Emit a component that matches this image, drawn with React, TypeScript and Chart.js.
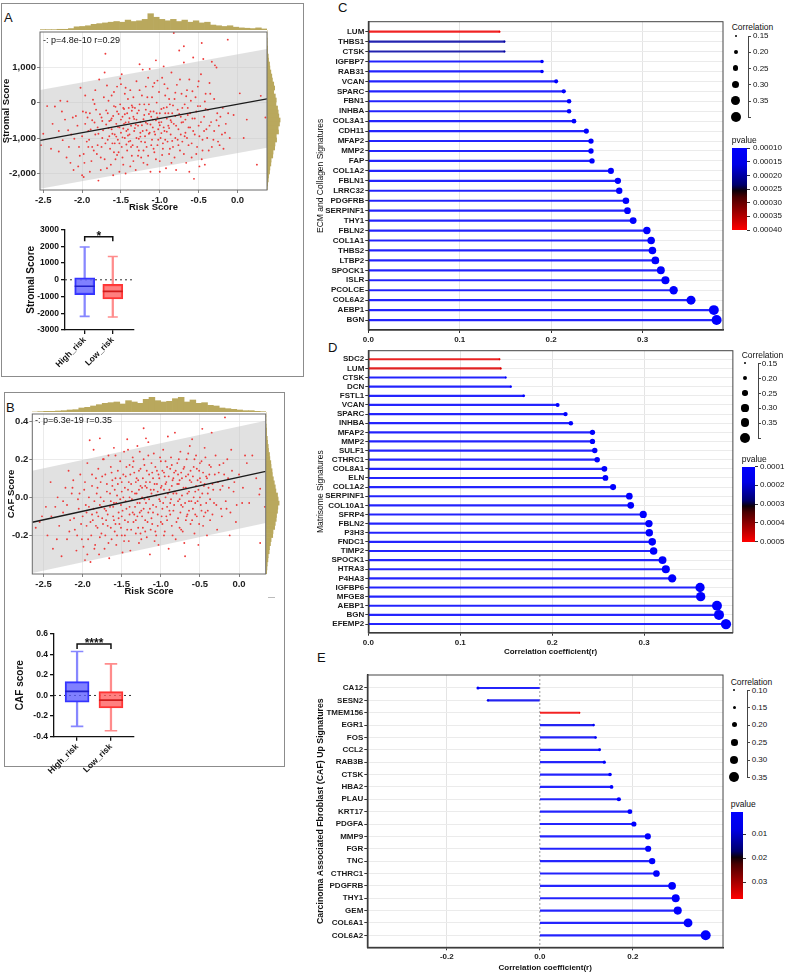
import React, { useEffect, useRef } from "react";
import { Chart, registerables } from "chart.js";

Chart.register(...registerables);

const FONT = "'Liberation Sans', Arial, Helvetica, sans-serif";
const HIST_COLOR = "#b9a85d";

/* ================= Panel A : Stromal score vs Risk score ================= */
const stromalPoints: [number, number][] = [
  [-2.53, -1200], [-2.5, -880], [-2.45, -100], [-2.38, -600], [-2.35, -110], [-2.3, -1380], [-2.28, 50], [-2.25, -1060],
  [-2.22, -480], [-2.2, -1550], [-2.19, 35], [-2.18, -780], [-2.15, -1700], [-2.14, -900], [-2.12, -420],
  [-2.08, -380], [-2.05, -1800], [-2.04, -1250], [-2.02, 420], [-2.0, -950], [-2.0, -2050], [-1.98, -1450], [-1.96, -600],
  [-1.95, -280], [-1.94, -1100], [-1.92, -800], [-1.9, -1950], [-1.9, -300], [-1.88, -1650], [-1.87, -500], [-1.86, 80],
  [-1.85, -1350], [-1.83, -900], [-1.82, -200], [-1.8, -1200], [-1.8, -700], [-1.79, -2200], [-1.78, 650], [-1.76, -1550],
  [-1.75, -420], [-1.74, -1000], [-1.72, 150], [-1.71, 850], [-1.7, 1375],
  [-1.69, -620], [-1.68, -1850], [-1.67, -300], [-1.66, 50], [-1.65, -950], [-1.64, -1300], [-1.63, -500], [-1.62, 200],
  [-1.62, -750], [-1.61, -1150], [-1.6, -2050], [-1.6, -380], [-1.59, -100], [-1.58, -900], [-1.57, -1600], [-1.56, -600],
  [-1.55, 450], [-1.55, -250], [-1.54, -1050], [-1.53, -1400], [-1.52, -700], [-1.51, -50], [-1.5, -850], [-1.5, 520],
  [-1.49, 800], [-1.49, -1250], [-1.48, -400], [-1.47, -1750], [-1.47, -150], [-1.46, -600], [-1.45, -1000], [-1.45, 250],
  [-1.44, -2000], [-1.43, -800], [-1.42, -300], [-1.42, -1350], [-1.41, 100], [-1.4, -550], [-1.4, -1100], [-1.4, -150],
  [-1.39, -900], [-1.38, 350], [-1.37, -650], [-1.36, -1500], [-1.35, -130], [-1.35, -1200], [-1.34, -400], [-1.33, -800],
  [-1.32, -150], [-1.31, -1900], [-1.3, 600], [-1.3, -1000], [-1.29, -300], [-1.28, -650], [-1.27, -1350], [-1.26, 1080],
  [-1.26, -50], [-1.25, -550], [-1.24, -1100], [-1.23, 200], [-1.22, 930], [-1.22, -800], [-1.21, -1700], [-1.2, -350],
  [-1.19, -950], [-1.18, 450], [-1.18, -200], [-1.17, -1250], [-1.16, -600], [-1.15, -1500], [-1.15, 700], [-1.14, -50],
  [-1.13, 950], [-1.13, -850], [-1.12, -1950], [-1.11, -400], [-1.1, 150], [-1.1, -1050], [-1.09, -700], [-1.08, -250],
  [-1.07, 550], [-1.07, -1400], [-1.06, -900], [-1.05, 1190], [-1.05, -500], [-1.04, 0], [-1.03, -1200], [-1.02, -750],
  [-1.01, 300], [-1.0, -1650], [-1.0, -300],
  [-0.99, -1000], [-0.98, -550], [-0.97, 700], [-0.96, -1300], [-0.95, 1020], [-0.95, -150], [-0.94, -800], [-0.93, 200],
  [-0.92, -1850], [-0.91, -450], [-0.9, -1100], [-0.9, 400], [-0.89, -650], [-0.88, -1450], [-0.87, -50], [-0.86, -900],
  [-0.85, 850], [-0.84, -300], [-0.83, -1250], [-0.82, 1960], [-0.82, -600], [-0.81, 100], [-0.8, -1000], [-0.79, -1900],
  [-0.78, 500], [-0.77, -200], [-0.76, -750], [-0.75, 1470], [-0.74, -1350], [-0.73, -400], [-0.72, 250], [-0.71, -1100],
  [-0.7, -550], [-0.69, 1590], [-0.69, 1130], [-0.68, -50], [-0.67, -850], [-0.66, -1700], [-0.65, 350], [-0.64, -350],
  [-0.63, -1200], [-0.62, 650], [-0.61, -700], [-0.6, 50],
  [-0.59, -1550], [-0.58, -450], [-0.57, 1270], [-0.56, -2150], [-0.55, -900], [-0.54, 150], [-0.53, -250], [-0.52, -1250],
  [-0.51, 450], [-0.5, -650], [-0.49, -1800], [-0.48, -100], [-0.47, 800], [-0.46, 1680], [-0.45, -1050], [-0.44, 1230],
  [-0.43, -400], [-0.42, -1750], [-0.41, 250], [-0.4, -750], [-0.38, -200], [-0.37, -1350], [-0.36, 550], [-0.34, -550],
  [-0.33, 1150], [-0.31, -1050], [-0.3, 100], [-0.29, 1050], [-0.27, 990], [-0.26, -300], [-0.25, -1100], [-0.24, -650],
  [-0.22, -400], [-0.2, -900],
  [-0.18, -1300], [-0.15, -600], [-0.125, 1775], [-0.1, -1000], [-0.05, -350], [0.03, 260], [0.08, -1000], [0.12, -480],
  [0.25, -1750], [0.3, 190], [0.36, -420],
  [-1.62, -450], [-1.58, -1150], [-1.53, -320], [-1.48, -980], [-1.44, -560], [-1.38, -1080], [-1.36, -230], [-1.33, -460],
  [-1.29, -1250], [-1.25, -850], [-1.21, -470], [-1.17, -780], [-1.12, -620], [-1.08, -1300], [-1.03, -420], [-0.98, -860],
  [-0.93, -300], [-0.88, -720], [-0.84, -1080], [-0.8, -380], [-0.76, -1200], [-0.72, -560], [-0.68, -950], [-0.64, -150],
  [-1.66, -720], [-1.7, -1150], [-1.74, -520], [-1.84, -560], [-1.92, -1250], [-1.55, -1480], [-1.46, -180], [-1.41, -760],
  [-1.31, -620], [-1.27, -1020], [-1.19, -1120], [-1.14, -320], [-1.01, -560], [-0.96, -1150], [-0.91, -130], [-0.86, -500],
  [-2.1, -1020], [-2.06, -650], [-2.03, -1500], [-1.99, -250], [-1.97, -1700], [-1.93, -420], [-1.91, -1050], [-1.89, -760],
  [-1.87, -1250], [-1.84, -40], [-1.81, -1450], [-1.79, -880], [-1.77, -330], [-1.75, -1250], [-1.73, -780], [-1.71, -1600],
  [-1.69, -220], [-1.67, -1050], [-1.65, -520], [-1.63, -1750], [-1.61, -880], [-1.59, -1400], [-1.57, -120], [-1.56, -960],
  [-1.54, -680], [-1.52, -1150], [-1.5, -480], [-1.48, -1550], [-1.47, -730], [-1.45, -330], [-1.43, -1180], [-1.41, -930],
  [-1.39, -440], [-1.37, -1250], [-1.36, -80], [-1.34, -1650], [-1.32, -720], [-1.3, -480], [-1.28, -1500], [-1.27, -220],
  [-1.25, -960], [-1.23, -640], [-1.21, -1350], [-1.2, -50], [-1.18, -560], [-1.16, -1750], [-1.14, -880], [-1.12, -250],
  [-1.11, -1200], [-1.09, -480], [-1.07, -820], [-1.05, -1600], [-1.04, -300], [-1.02, -1050], [-1.0, -640], [-0.98, -180],
  [-0.97, -1480], [-0.95, -700], [-0.93, -1050], [-0.91, -820], [-0.89, -300], [-0.87, -1300], [-0.85, -550], [-0.83, -80],
  [-0.81, -1550], [-0.79, -650], [-0.77, -1050], [-0.75, -320], [-0.73, -900], [-0.71, -150], [-0.69, -1450], [-0.67, -480],
  [-0.65, -1000], [-0.63, -700], [-0.61, -300], [-0.59, -1150], [-0.57, -800], [-0.55, -450], [-0.53, -1450], [-0.51, -100],
  [-0.49, -950], [-0.47, -550], [-0.45, -1350], [-0.43, -800], [-0.41, -180], [-0.39, -1000], [-0.36, -650], [-0.33, -1250],
  [-0.3, -800], [-0.27, -500], [-0.23, -1200], [-0.19, -150], [-0.16, -850], [-0.12, -300], [-1.96, 200], [-1.83, 350],
  [-1.68, 480], [-1.59, 300], [-1.51, 680], [-1.44, 420], [-1.34, 150], [-1.26, 350], [-1.16, 150], [-1.09, 450],
  [-1.03, 620], [-0.94, 520], [-0.88, 100], [-0.8, 280], [-0.74, 650], [-0.66, 180], [-0.58, 320], [-0.5, 600],
  [-0.42, 30], [-0.35, 250], [-2.3, -800], [-2.26, -250], [-2.4, -1300], [-2.17, -1250], [-2.11, -1900], [-1.98, -2100],
  [-1.76, -1900], [-1.52, -1950], [-1.38, -1800], [-1.24, -1550], [-1.0, -1950], [-0.85, -1700], [-0.62, -1950], [-0.46, -1600],
];
const stromalFitX = [-2.54, 0.38];
const stromalFitY = [-1067, 103];
const stromalBandUpper = [354, 1513];
const stromalBandLower = [-2432, -1273];
const stromalXTicks = [-2.5, -2.0, -1.5, -1.0, -0.5, 0.0];
const stromalYTicks = [-2000, -1000, 0, 1000];
const riskHistA = [1, 1, 1, 2, 2, 4, 9, 10, 12, 16, 18, 20, 22, 24, 22, 28, 24, 26, 30, 46, 36, 30, 26, 30, 24, 28, 22, 26, 20, 22, 14, 12, 10, 12, 8, 6, 5, 4, 6, 3];
const stromalHist = [0, 0, 1, 1, 2, 2, 4, 5, 8, 9, 12, 15, 17, 21, 24, 21, 26, 29, 28, 33, 35, 37, 41, 39, 35, 36, 29, 30, 25, 24, 19, 18, 13, 12, 9, 8, 5, 4, 2, 1];

const boxGroups = ["High_risk", "Low_risk"];
const stromalMin = [-2187, -2220];
const stromalQ1 = [-882, -1143];
const stromalMedian = [-388, -690];
const stromalQ3 = [123, -275];
const stromalMax = [1956, 1390];
const stromalBoxTicks = [-3000, -2000, -1000, 0, 1000, 2000, 3000];

/* ================= Panel B : CAF score vs Risk score ================= */
const cafPoints: [number, number][] = [
  [-2.55, -0.13], [-2.52, -0.1], [-2.47, -0.05], [-2.45, -0.2], [-2.41, 0.08], [-2.38, -0.27], [-2.35, -0.05], [-2.32, 0.0],
  [-2.3, -0.15], [-2.27, -0.31], [-2.25, -0.08], [-2.22, 0.05], [-2.2, -0.22], [-2.18, 0.14], [-2.16, -0.12],
  [-2.14, 0.02], [-2.12, 0.09], [-2.1, -0.17], [-2.08, -0.28], [-2.06, -0.01], [-2.05, -0.06], [-2.03, 0.12], [-2.01, -0.22],
  [-2.0, -0.1], [-1.98, 0.04], [-1.97, -0.33], [-1.95, -0.15], [-1.94, 0.18], [-1.92, -0.05], [-1.91, 0.3], [-1.9, -0.34],
  [-1.89, -0.2], [-1.88, 0.06], [-1.87, -0.12], [-1.86, 0.25], [-1.85, -0.02], [-1.84, -0.25], [-1.83, 0.1], [-1.82, -0.08],
  [-1.81, -0.16], [-1.8, 0.15], [-1.79, -0.3], [-1.78, 0.31], [-1.78, -0.04],
  [-1.77, 0.08], [-1.76, -0.19], [-1.75, -0.11], [-1.74, 0.2], [-1.73, -0.02], [-1.72, -0.27], [-1.71, 0.12], [-1.7, -0.07],
  [-1.69, 0.03], [-1.68, -0.15], [-1.67, 0.22], [-1.66, -0.32], [-1.65, -0.05], [-1.64, 0.16], [-1.63, -0.22], [-1.62, 0.06],
  [-1.61, -0.1], [-1.6, 0.26], [-1.6, -0.03], [-1.59, -0.18], [-1.58, 0.1], [-1.57, -0.25], [-1.56, 0.01], [-1.55, 0.14],
  [-1.54, -0.08], [-1.53, -0.14], [-1.52, 0.19], [-1.51, -0.04], [-1.5, 0.08], [-1.5, -0.2], [-1.49, -0.29], [-1.48, 0.0],
  [-1.47, 0.24], [-1.46, -0.12], [-1.45, 0.11], [-1.44, -0.06], [-1.43, 0.305], [-1.43, -0.17], [-1.42, 0.04], [-1.41, -0.23],
  [-1.4, 0.17], [-1.4, -0.09],
  [-1.39, -0.28], [-1.38, 0.07], [-1.37, -0.01], [-1.36, 0.21], [-1.35, -0.13], [-1.34, 0.13], [-1.33, -0.05], [-1.32, -0.19],
  [-1.31, 0.02], [-1.3, 0.27], [-1.3, -0.1], [-1.29, 0.09], [-1.28, -0.24], [-1.27, -0.03], [-1.26, 0.15], [-1.25, -0.07],
  [-1.24, 0.05], [-1.23, -0.16], [-1.22, 0.363], [-1.22, 0.2], [-1.21, -0.01], [-1.2, -0.12], [-1.19, 0.31], [-1.19, 0.08],
  [-1.18, -0.21], [-1.17, 0.0], [-1.16, 0.29], [-1.16, -0.08], [-1.15, 0.12], [-1.14, -0.3], [-1.13, 0.04], [-1.12, 0.18],
  [-1.11, -0.14], [-1.1, -0.04], [-1.09, 0.23], [-1.08, 0.07], [-1.07, -0.18], [-1.06, 0.01], [-1.05, 0.14], [-1.04, -0.09],
  [-1.03, -0.25], [-1.02, 0.1], [-1.01, -0.02], [-1.0, 0.19], [-1.0, -0.13],
  [-0.99, 0.06], [-0.98, -0.06], [-0.97, 0.25], [-0.96, -0.2], [-0.95, 0.11], [-0.94, 0.0], [-0.93, -0.1], [-0.92, 0.16],
  [-0.91, 0.32], [-0.9, -0.27], [-0.89, 0.04], [-0.88, -0.03], [-0.87, 0.21], [-0.86, -0.15], [-0.85, 0.09], [-0.84, -0.07],
  [-0.83, 0.13], [-0.82, 0.34], [-0.81, -0.22], [-0.8, 0.02], [-0.79, 0.18], [-0.78, -0.11], [-0.77, 0.07], [-0.76, -0.01],
  [-0.75, 0.24], [-0.74, -0.17], [-0.73, 0.1], [-0.72, -0.05], [-0.71, 0.15], [-0.7, -0.24], [-0.69, -0.31], [-0.68, 0.05],
  [-0.67, 0.2], [-0.66, -0.09], [-0.65, 0.12], [-0.64, -0.02], [-0.63, 0.27], [-0.62, -0.14], [-0.61, 0.08], [-0.6, 0.305],
  [-0.59, -0.06], [-0.58, 0.16], [-0.57, -0.19], [-0.56, 0.03], [-0.55, 0.22], [-0.54, -0.1], [-0.53, 0.09], [-0.52, -0.25],
  [-0.51, 0.14], [-0.5, 0.0], [-0.49, -0.04], [-0.48, 0.19], [-0.47, 0.36], [-0.46, -0.15], [-0.45, 0.06], [-0.44, 0.26],
  [-0.43, -0.08], [-0.42, 0.11], [-0.41, -0.2], [-0.4, 0.02], [-0.38, 0.17], [-0.37, -0.12], [-0.35, 0.34], [-0.34, 0.07],
  [-0.32, -0.03], [-0.3, 0.22], [-0.28, -0.17], [-0.26, 0.13], [-0.24, 0.04], [-0.22, -0.1], [-0.2, 0.18],
  [-0.18, 0.42], [-0.16, -0.06], [-0.14, 0.1], [-0.12, -0.2], [-0.1, 0.25], [-0.07, 0.03], [-0.04, -0.13], [0.04, -0.03],
  [0.077, 0.22], [0.13, -0.03], [0.17, 0.22], [0.22, 0.1], [0.26, 0.015], [0.27, 0.045], [0.27, -0.24], [0.33, -0.05],
  [-1.7, -0.12], [-1.64, -0.02], [-1.58, -0.14], [-1.52, -0.01], [-1.46, -0.2], [-1.4, 0.0], [-1.34, -0.09], [-1.28, 0.04],
  [-1.24, -0.1], [-1.2, 0.06], [-1.14, -0.06], [-1.1, 0.1], [-1.04, 0.03], [-0.98, -0.14], [-0.94, 0.07], [-0.88, -0.09],
  [-0.84, 0.02], [-0.78, 0.12], [-0.74, -0.04], [-0.68, -0.12], [-1.76, -0.05], [-1.82, 0.02], [-1.88, -0.09], [-1.96, -0.04],
  [-1.62, 0.09], [-1.48, 0.12], [-1.36, 0.16], [-1.26, -0.19], [-1.18, 0.14], [-1.06, -0.2], [-0.96, 0.13], [-0.86, 0.17],
  [-0.76, -0.16], [-0.64, 0.03], [-0.56, -0.03], [-0.5, 0.1], [-1.5, -0.1], [-1.32, 0.08], [-1.12, -0.11], [-0.92, -0.05],
  [-2.2, -0.04], [-2.17, -0.18], [-2.13, 0.05], [-2.11, -0.11], [-2.07, -0.2], [-2.04, 0.02], [-2.02, -0.14], [-1.99, -0.26],
  [-1.97, 0.08], [-1.95, -0.08], [-1.93, -0.22], [-1.92, 0.0], [-1.9, -0.13], [-1.88, 0.12], [-1.86, -0.06], [-1.85, -0.27],
  [-1.83, -0.15], [-1.81, 0.05], [-1.8, -0.1], [-1.78, -0.21], [-1.77, 0.0], [-1.75, 0.11], [-1.74, -0.14], [-1.72, -0.06],
  [-1.71, -0.2], [-1.69, 0.07], [-1.68, -0.09], [-1.67, -0.24], [-1.65, 0.02], [-1.64, -0.16], [-1.63, 0.13], [-1.61, -0.05],
  [-1.6, -0.12], [-1.59, 0.04], [-1.57, -0.03], [-1.56, -0.2], [-1.55, 0.07], [-1.54, -0.11], [-1.52, 0.1], [-1.51, -0.16],
  [-1.5, 0.03], [-1.49, -0.07], [-1.47, -0.23], [-1.46, 0.05], [-1.45, -0.02], [-1.44, 0.16], [-1.42, -0.13], [-1.41, 0.08],
  [-1.4, -0.05], [-1.39, 0.12], [-1.38, -0.17], [-1.37, 0.03], [-1.36, -0.08], [-1.35, 0.19], [-1.33, 0.02], [-1.32, -0.12],
  [-1.31, 0.1], [-1.3, -0.03], [-1.29, -0.16], [-1.28, 0.14], [-1.27, -0.08], [-1.26, 0.06], [-1.25, -0.22], [-1.24, 0.0],
  [-1.23, 0.1], [-1.22, -0.06], [-1.21, 0.17], [-1.2, -0.18], [-1.19, -0.03], [-1.18, 0.05], [-1.17, -0.13], [-1.16, 0.22],
  [-1.15, -0.01], [-1.14, 0.08], [-1.13, -0.17], [-1.12, 0.02], [-1.11, 0.13], [-1.1, -0.08], [-1.09, 0.04], [-1.08, -0.23],
  [-1.07, 0.16], [-1.06, -0.05], [-1.05, 0.07], [-1.04, -0.15], [-1.03, 0.12], [-1.02, -0.01], [-1.01, 0.21], [-1.0, 0.05],
  [-0.99, -0.1], [-0.98, 0.14], [-0.97, -0.03], [-0.96, 0.04], [-0.95, -0.18], [-0.94, 0.19], [-0.93, 0.08], [-0.92, -0.12],
  [-0.91, 0.02], [-0.9, 0.11], [-0.89, -0.07], [-0.88, 0.15], [-0.87, -0.01], [-0.86, 0.06], [-0.85, -0.2], [-0.84, 0.1],
  [-0.83, -0.04], [-0.82, 0.03], [-0.81, 0.14], [-0.8, -0.13], [-0.79, 0.07], [-0.78, -0.02], [-0.77, 0.2], [-0.76, 0.09],
  [-0.75, -0.08], [-0.74, 0.13], [-0.73, 0.01], [-0.72, -0.18], [-0.71, 0.05], [-0.7, 0.16], [-0.69, -0.03], [-0.68, 0.11],
  [-0.67, -0.1], [-0.66, 0.02], [-0.65, 0.23], [-0.64, -0.07], [-0.63, 0.09], [-0.62, 0.14], [-0.61, -0.02], [-0.6, -0.12],
  [-0.59, 0.11], [-0.58, 0.0], [-0.57, 0.2], [-0.56, -0.09], [-0.55, 0.06], [-0.54, 0.15], [-0.53, -0.02], [-0.52, 0.04],
  [-0.51, -0.14], [-0.5, 0.18], [-0.49, 0.08], [-0.48, -0.07], [-0.47, 0.02], [-0.46, 0.13], [-0.45, -0.1], [-0.44, 0.07],
  [-0.43, 0.21], [-0.42, -0.03], [-0.41, 0.1], [-0.4, -0.07], [-0.39, 0.05], [-0.38, 0.12], [-0.37, -0.01], [-0.36, 0.16],
  [-0.34, -0.09], [-0.33, 0.04], [-0.31, 0.12], [-0.29, -0.04], [-0.27, 0.08], [-0.25, 0.17], [-0.23, -0.06], [-0.21, 0.06],
  [-0.19, 0.12], [-0.17, -0.02], [-0.15, 0.2], [-0.13, 0.05], [-0.11, -0.08], [-0.09, 0.14], [-0.06, 0.08], [-0.03, -0.04],
  [0.0, 0.12], [0.05, 0.05], [0.1, 0.18], [-2.25, -0.02], [-2.4, -0.1], [-2.6, -0.16], [-2.33, -0.22], [-1.94, -0.3],
  [-1.73, 0.2], [-1.58, 0.22], [-1.42, 0.25], [-1.27, 0.24],
];
const cafFitX = [-2.644, 0.341];
const cafFitY = [-0.131, 0.136];
const cafBandUpper = [0.14, 0.403];
const cafBandLower = [-0.398, -0.135];
const cafXTicks = [-2.5, -2.0, -1.5, -1.0, -0.5, 0.0];
const cafYTicks = [-0.2, 0.0, 0.2, 0.4];
const riskHistB = [0, 1, 2, 2, 3, 4, 6, 7, 12, 14, 18, 22, 26, 28, 30, 24, 34, 30, 26, 38, 44, 34, 30, 32, 40, 44, 30, 36, 26, 28, 20, 18, 12, 10, 8, 6, 4, 4, 2, 1];
const cafHist = [0, 0, 0, 1, 2, 2, 4, 5, 7, 8, 11, 12, 15, 16, 19, 20, 23, 26, 29, 31, 36, 38, 41, 37, 36, 33, 32, 29, 27, 22, 21, 16, 14, 11, 10, 7, 6, 4, 3, 2];

const cafMin = [-0.30, -0.342];
const cafQ1 = [-0.066, -0.121];
const cafMedian = [0.04, -0.045];
const cafQ3 = [0.134, 0.037];
const cafMax = [0.427, 0.306];
const cafBoxTicks = [-0.4, -0.2, 0.0, 0.2, 0.4, 0.6];

/* ================= Panel C : ECM and Collagen ================= */
const genesC = ["LUM", "THBS1", "CTSK", "IGFBP7", "RAB31", "VCAN", "SPARC", "FBN1", "INHBA", "COL3A1", "CDH11", "MFAP2", "MMP2", "FAP", "COL1A2", "FBLN1", "LRRC32", "PDGFRB", "SERPINF1", "THY1", "FBLN2", "COL1A1", "THBS2", "LTBP2", "SPOCK1", "ISLR", "PCOLCE", "COL6A2", "AEBP1", "BGN"];
const corrC = [0.1436, 0.149, 0.149, 0.19, 0.19, 0.2055, 0.2138, 0.2196, 0.2196, 0.225, 0.2385, 0.2436, 0.2436, 0.2447, 0.2654, 0.273, 0.2745, 0.2818, 0.2835, 0.2897, 0.3047, 0.3094, 0.3108, 0.314, 0.32, 0.325, 0.334, 0.353, 0.378, 0.381];
const pvalC = [0.00039, 0.0002, 0.0002, 0.00004, 0.00004, 0.00002, 0.00002, 0.00001, 0.00001, 0.00001, 0.000005, 0.000004, 0.000004, 0.000004, 0.000001, 0.000001, 0.000001, 0.000001, 0.000001, 0.000001, 0.0000005, 0.0000004, 0.0000004, 0.0000003, 0.0000002, 0.0000002, 0.0000001, 0.00000005, 0.00000001, 0.00000001];
const xTicksC = [0.0, 0.1, 0.2, 0.3];
const sizeLegendC = [0.15, 0.2, 0.25, 0.3, 0.35, 0.38];
const sizeLabelsC = ["0.15", "0.20", "0.25", "0.30", "0.35"];
const pTicksC = [0.0001, 0.00015, 0.0002, 0.00025, 0.0003, 0.00035, 0.0004];
const pLabelsC = ["0.00010", "0.00015", "0.00020", "0.00025", "0.00030", "0.00035", "0.00040"];

/* ================= Panel D : Matrisome ================= */
const genesD = ["SDC2", "LUM", "CTSK", "DCN", "FSTL1", "VCAN", "SPARC", "INHBA", "MFAP2", "MMP2", "SULF1", "CTHRC1", "COL8A1", "ELN", "COL1A2", "SERPINF1", "COL10A1", "SFRP4", "FBLN2", "P3H3", "FNDC1", "TIMP2", "SPOCK1", "HTRA3", "P4HA3", "IGFBP6", "MFGE8", "AEBP1", "BGN", "EFEMP2"];
const corrD = [0.1427, 0.1441, 0.1495, 0.155, 0.169, 0.2059, 0.2145, 0.2203, 0.2438, 0.2438, 0.2463, 0.2489, 0.2568, 0.2579, 0.2662, 0.2839, 0.2854, 0.299, 0.3052, 0.3056, 0.3088, 0.3103, 0.32, 0.3236, 0.3305, 0.3608, 0.3615, 0.3792, 0.3814, 0.389];
const pvalD = [0.00048, 0.00047, 0.00009, 0.00008, 0.00004, 0.00002, 0.00001, 0.00001, 0.000004, 0.000004, 0.000003, 0.000003, 0.000002, 0.000002, 0.000001, 0.0000005, 0.0000005, 0.0000003, 0.0000002, 0.0000002, 0.0000002, 0.0000002, 0.0000001, 0.0000001, 0.0000001, 0.00000002, 0.00000002, 0.00000001, 0.00000001, 0.00000001];
const xTicksD = [0.0, 0.1, 0.2, 0.3];
const sizeLegendD = [0.15, 0.2, 0.25, 0.3, 0.35, 0.38];
const sizeLabelsD = ["0.15", "0.20", "0.25", "0.30", "0.35"];
const pTicksD = [0.0001, 0.0002, 0.0003, 0.0004, 0.0005];
const pLabelsD = ["0.0001", "0.0002", "0.0003", "0.0004", "0.0005"];

/* ================= Panel E : CAF up signatures ================= */
const genesE = ["CA12", "SESN2", "TMEM156", "EGR1", "FOS", "CCL2", "RAB3B", "CTSK", "HBA2", "PLAU", "KRT17", "PDGFA", "MMP9", "FGR", "TNC", "CTHRC1", "PDGFRB", "THY1", "GEM", "COL6A1", "COL6A2"];
const corrE = [-0.133, -0.1115, 0.0857, 0.1158, 0.12, 0.1286, 0.1387, 0.151, 0.1543, 0.17, 0.1937, 0.2023, 0.2323, 0.233, 0.2416, 0.2508, 0.2845, 0.2923, 0.2966, 0.3188, 0.3567];
const pvalE = [0.0015, 0.005, 0.036, 0.004, 0.003, 0.002, 0.001, 0.0006, 0.0005, 0.0002, 0.0001, 0.00005, 0.00001, 0.00001, 0.00001, 0.000005, 0.000001, 0.000001, 0.000001, 0.0000005, 0.0000001];
const xTicksE = [-0.2, 0.0, 0.2];
const sizeLegendE = [0.1, 0.15, 0.2, 0.25, 0.3, 0.35];
const sizeLabelsE = ["0.10", "0.15", "0.20", "0.25", "0.30", "0.35"];
const pTicksE = [0.01, 0.02, 0.03];
const pLabelsE = ["0.01", "0.02", "0.03"];

/* ================= helpers ================= */
const P_STOPS: [number, string][] = [
  [0, "#0000ff"], [0.2, "#0000e6"], [0.45, "#00006b"], [0.52, "#0d0008"], [0.6, "#4a0000"], [1, "#ff0000"],
];
function hexToRgb(h: string) {
  return [parseInt(h.slice(1, 3), 16), parseInt(h.slice(3, 5), 16), parseInt(h.slice(5, 7), 16)];
}
function pColor(p: number, lo: number, hi: number, alpha = 1) {
  const t = Math.max(0, Math.min(1, (p - lo) / (hi - lo)));
  let k = 0;
  while (k < P_STOPS.length - 2 && t > P_STOPS[k + 1][0]) k++;
  const [t0, c0] = P_STOPS[k];
  const [t1, c1] = P_STOPS[k + 1];
  const f = (t - t0) / (t1 - t0);
  const a = hexToRgb(c0), b = hexToRgb(c1);
  const c = a.map((v, i) => Math.round(v + (b[i] - v) * f));
  return `rgba(${c[0]},${c[1]},${c[2]},${alpha})`;
}
const gradientCss = `linear-gradient(to bottom, ${P_STOPS.map(([t, c]) => `${c} ${t * 100}%`).join(", ")})`;

const radiusCD = (v: number) => 0.9 + (Math.abs(v) - 0.14) * 17;
const radiusE = (v: number) => 0.7 + (Math.abs(v) - 0.08) * 15.5;

const fixW = (w: number) => (s: any) => { s.width = w; s.paddingTop = 0; s.paddingBottom = 0; };
const fixH = (h: number) => (s: any) => { s.height = h; s.paddingLeft = 0; s.paddingRight = 0; };
const setTicks = (vals: number[]) => (s: any) => { s.ticks = vals.map((v) => ({ value: v })); };
const font = (size: number, bold = true) => ({ family: FONT, size, weight: bold ? "bold" : "normal" });

function makeFrame(color: string, width: number) {
  return {
    id: "frame",
    afterDatasetsDraw(chart: any) {
      const a = chart.chartArea, ctx = chart.ctx;
      ctx.save();
      ctx.strokeStyle = color;
      ctx.lineWidth = width;
      ctx.strokeRect(a.left, a.top, a.right - a.left, a.bottom - a.top);
      ctx.restore();
    },
  };
}
function makeRefLine(axis: "x" | "y", value: number, color: string, dash: number[]) {
  return {
    id: "refLine",
    beforeDatasetsDraw(chart: any) {
      const a = chart.chartArea, ctx = chart.ctx;
      ctx.save();
      ctx.strokeStyle = color;
      ctx.lineWidth = 1;
      ctx.setLineDash(dash);
      ctx.beginPath();
      if (axis === "x") {
        const px = chart.scales.x.getPixelForValue(value);
        ctx.moveTo(px, a.top); ctx.lineTo(px, a.bottom);
      } else {
        const py = chart.scales.y.getPixelForValue(value);
        ctx.moveTo(a.left, py); ctx.lineTo(a.right, py);
      }
      ctx.stroke();
      ctx.restore();
    },
  };
}
function makeBracket(x1: number, x2: number, y: number, yEnd: number, text: string) {
  return {
    id: "bracket",
    afterDatasetsDraw(chart: any) {
      const ctx = chart.ctx, sx = chart.scales.x, sy = chart.scales.y;
      const px1 = sx.getPixelForValue(x1), px2 = sx.getPixelForValue(x2);
      const py = sy.getPixelForValue(y), pe = sy.getPixelForValue(yEnd);
      ctx.save();
      ctx.strokeStyle = "#111";
      ctx.lineWidth = 1.5;
      ctx.beginPath();
      ctx.moveTo(px1, pe); ctx.lineTo(px1, py); ctx.lineTo(px2, py); ctx.lineTo(px2, pe);
      ctx.stroke();
      ctx.fillStyle = "#111";
      ctx.font = `bold 12px ${FONT}`;
      ctx.textAlign = "center";
      ctx.textBaseline = "alphabetic";
      ctx.fillText(text, (px1 + px2) / 2, py + 3.5);
      ctx.restore();
    },
  };
}

function histConfig(values: number[], horizontal: boolean, max: number) {
  return {
    type: "bar",
    data: {
      labels: values.map((_, i) => String(i)),
      datasets: [{ data: values, backgroundColor: HIST_COLOR, borderWidth: 0, barPercentage: 1, categoryPercentage: 1 }],
    },
    options: {
      animation: false, responsive: false, events: [], indexAxis: horizontal ? "y" : "x",
      layout: { padding: 0 },
      plugins: { legend: { display: false }, tooltip: { enabled: false } },
      scales: horizontal
        ? { x: { display: false, min: 0, max }, y: { display: false } }
        : { x: { display: false }, y: { display: false, min: 0, max } },
    },
  };
}

function scatterConfig(p: any) {
  const { points, fitX, fitY, bandUp, bandLo } = p;
  return {
    type: "scatter",
    data: {
      datasets: [
        { type: "line", data: fitX.map((x: number, i: number) => ({ x, y: fitY[i] })), borderColor: "#1b1b1b", borderWidth: 1.3, pointRadius: 0, fill: false, order: 0 },
        { type: "scatter", data: points.map(([x, y]: number[]) => ({ x, y })), pointRadius: 0.95, backgroundColor: "#ee3a3a", borderColor: "#ee3a3a", borderWidth: 0, order: 1 },
        { type: "line", data: fitX.map((x: number, i: number) => ({ x, y: bandLo[i] })), borderColor: "rgba(0,0,0,0)", borderWidth: 1, pointRadius: 0, fill: false, order: 3 },
        { type: "line", data: fitX.map((x: number, i: number) => ({ x, y: bandUp[i] })), borderColor: "rgba(0,0,0,0)", borderWidth: 1, pointRadius: 0, fill: 2, backgroundColor: "rgba(195,195,195,0.5)", order: 2 },
      ],
    },
    options: {
      animation: false, responsive: false, events: [],
      layout: { padding: { top: p.padTop, right: p.padRight, left: 0, bottom: 0 } },
      plugins: { legend: { display: false }, tooltip: { enabled: false } },
      scales: {
        x: {
          type: "linear", offset: false, bounds: "data", min: p.xMin, max: p.xMax, afterBuildTicks: setTicks(p.xTicks), afterFit: fixH(p.xAxisH),
          border: { display: false },
          grid: { offset: false, color: "#e6e6e6", lineWidth: 0.8, tickColor: "#666", tickLength: 3 },
          ticks: { autoSkip: false, maxRotation: 0, padding: 2, color: "#222", font: font(9.5), callback: (v: any) => Number(v).toFixed(1) },
          title: { display: true, text: "Risk Score", color: "#111", font: font(9.5), padding: { top: 0, bottom: p.xTitlePad } },
        },
        y: {
          type: "linear", offset: false, bounds: "data", min: p.yMin, max: p.yMax, afterBuildTicks: setTicks(p.yTicks), afterFit: fixW(p.yAxisW),
          border: { display: false },
          grid: { offset: false, color: "#e6e6e6", lineWidth: 0.8, tickColor: "#666", tickLength: 3 },
          ticks: { autoSkip: false, padding: 1, color: "#222", font: font(9.5), callback: p.yFmt },
          title: { display: true, text: p.yTitle, color: "#111", font: font(9.5), padding: { top: p.yTitlePad, bottom: 0 } },
        },
      },
    },
    plugins: [makeFrame("#6a6a6a", 1)],
  };
}

function boxConfig(p: any) {
  const xs = boxGroups.map((_, i) => i + 1);
  const fills = ["rgba(92,92,255,0.78)", "rgba(255,92,92,0.78)"];
  const edges = ["#3434ff", "#ff3434"];
  const medians = ["#2020c8", "#d01c1c"];
  const whisk = ["#8787ff", "#ff8c8c"];
  return {
    type: "scatter",
    data: {
      datasets: [
        { type: "scatter", data: xs.map((x, i) => ({ x, y: p.med[i] })), pointStyle: "line", pointRadius: p.boxW / 2, borderColor: medians, pointBorderColor: medians, pointBorderWidth: 1.6, borderWidth: 1.6, order: 0 },
        { type: "bar", data: xs.map((x, i) => ({ x, y: [p.q1[i], p.q3[i]] })), backgroundColor: fills, borderColor: edges, borderWidth: 1.6, borderSkipped: false, barThickness: p.boxW, grouped: false, order: 1 },
        { type: "scatter", data: xs.flatMap((x, i) => [{ x, y: p.max[i] }, { x, y: p.min[i] }]), pointStyle: "line", pointRadius: p.capW / 2, borderColor: xs.flatMap((_, i) => [whisk[i], whisk[i]]), pointBorderColor: xs.flatMap((_, i) => [whisk[i], whisk[i]]), pointBorderWidth: 1.6, borderWidth: 1.6, order: 2 },
        { type: "bar", data: xs.flatMap((x, i) => [{ x, y: [p.min[i], p.q1[i]] }, { x, y: [p.q3[i], p.max[i]] }]), backgroundColor: xs.flatMap((_, i) => [whisk[i], whisk[i]]), borderWidth: 0, barThickness: 1.6, grouped: false, order: 3 },
      ],
    },
    options: {
      animation: false, responsive: false, events: [],
      layout: { padding: { top: p.padTop, right: p.padRight, left: 0, bottom: 0 } },
      plugins: { legend: { display: false }, tooltip: { enabled: false } },
      scales: {
        x: {
          type: "linear", offset: false, bounds: "data", min: p.xMin, max: p.xMax, afterBuildTicks: setTicks(xs), afterFit: fixH(p.xAxisH),
          border: { display: true, color: "#111", width: 1.3 },
          grid: { display: true, offset: false, drawOnChartArea: false, tickColor: "#111", tickLength: 4, lineWidth: 1.3 },
          ticks: { autoSkip: false, minRotation: 45, maxRotation: 45, padding: 1, color: "#111", font: font(8.5), callback: (v: any) => boxGroups[Math.round(v) - 1] },
        },
        y: {
          type: "linear", offset: false, bounds: "data", min: p.yMin, max: p.yMax, afterBuildTicks: setTicks(p.yTicks), afterFit: fixW(p.yAxisW),
          border: { display: true, color: "#111", width: 1.3 },
          grid: { display: true, offset: false, drawOnChartArea: false, tickColor: "#111", tickLength: 4, lineWidth: 1.3 },
          ticks: { autoSkip: false, padding: 2, color: "#111", font: font(8.5), callback: p.yFmt },
          title: { display: true, text: p.yTitle, color: "#111", font: font(10), padding: { top: p.yTitlePad, bottom: 0 } },
        },
      },
    },
    plugins: [makeRefLine("y", 0, "#333", [2, 3]), makeBracket(1, 2, p.bracketY, p.bracketEnd, p.stars)],
  };
}

function lollipopConfig(p: any) {
  const dotColors = p.pvals.map((v: number) => pColor(v, p.pLo, p.pHi));
  const stemColors = p.pvals.map((v: number) => pColor(v, p.pLo, p.pHi, 0.85));
  const plugins: any[] = [makeFrame("#444", 1)];
  if (p.zeroLine) plugins.unshift(makeRefLine("x", 0, "#9a9a9a", [2, 2]));
  return {
    type: "scatter",
    data: {
      datasets: [
        { type: "scatter", data: p.values.map((v: number, i: number) => ({ x: v, y: i })), pointRadius: p.values.map((v: number) => p.radius(v)), backgroundColor: dotColors, borderColor: dotColors, borderWidth: 0, order: 0 },
        { type: "bar", indexAxis: "y", data: p.values.map((v: number, i: number) => ({ x: [0, v], y: i })), backgroundColor: stemColors, borderWidth: 0, barThickness: 1.5, grouped: false, order: 1 },
      ],
    },
    options: {
      animation: false, responsive: false, events: [],
      layout: { padding: { top: p.padTop, right: p.padRight, left: 0, bottom: 0 } },
      plugins: { legend: { display: false }, tooltip: { enabled: false } },
      scales: {
        x: {
          type: "linear", offset: false, bounds: "data", beginAtZero: false, min: p.xMin, max: p.xMax, afterBuildTicks: setTicks(p.xTicks), afterFit: fixH(p.xAxisH),
          border: { display: true, color: "#222", width: 1.5 },
          grid: { offset: false, color: (c: any) => (p.zeroLine && c.tick && c.tick.value === 0 ? "rgba(0,0,0,0)" : "#e4e4e4"), lineWidth: 1, tickColor: "#333", tickLength: 3 },
          ticks: { autoSkip: false, maxRotation: 0, padding: 2, color: "#222", font: font(8), callback: (v: any) => Number(v).toFixed(1) },
          title: p.xTitle
            ? { display: true, text: p.xTitle, color: "#111", font: font(8), padding: { top: 0, bottom: p.xTitlePad } }
            : { display: false },
        },
        y: {
          type: "linear", offset: false, bounds: "data", reverse: true, min: p.yMin, max: p.yMax, afterBuildTicks: setTicks(p.genes.map((_: string, i: number) => i)), afterFit: fixW(p.yAxisW),
          border: { display: true, color: "#222", width: 1.5 },
          grid: { offset: false, color: "#ebebeb", lineWidth: 1, tickColor: "#333", tickLength: 3 },
          ticks: { autoSkip: false, padding: 1, color: "#1a1a1a", font: font(8), callback: (v: any) => p.genes[Math.round(v)] },
          title: { display: true, text: p.yTitle, color: "#111", font: font(p.yTitleSize, p.yTitleBold), padding: { top: p.yTitlePad, bottom: 0 } },
        },
      },
    },
    plugins,
  };
}

/* ================= components ================= */
function ChartCanvas({ left, top, width, height, make }: { left: number; top: number; width: number; height: number; make: () => any }) {
  const ref = useRef<HTMLCanvasElement>(null);
  useEffect(() => {
    const chart = new Chart(ref.current as HTMLCanvasElement, make());
    return () => chart.destroy();
  }, []);
  return (
    <div style={{ position: "absolute", left, top, width, height }}>
      <canvas ref={ref} width={width} height={height} style={{ display: "block", width, height }} />
    </div>
  );
}

function Txt({ x, y, size = 8, bold = false, color = "#111", children }: any) {
  return (
    <div style={{ position: "absolute", left: x, top: y, transform: "translateY(-50%)", fontFamily: FONT, fontSize: size, fontWeight: bold ? "bold" : "normal", lineHeight: 1, whiteSpace: "nowrap", color }}>
      {children}
    </div>
  );
}

function SizeLegend({ titleX, titleY, dotX, dotY0, step, values, labels, labelX, bracketX, radius }: any) {
  const ys = values.map((_: number, i: number) => dotY0 + i * step);
  const last = ys[ys.length - 1];
  return (
    <>
      <Txt x={titleX} y={titleY} size={8.5}>Correlation</Txt>
      {values.map((v: number, i: number) => {
        const r = radius(v);
        return <div key={"d" + i} style={{ position: "absolute", left: dotX - r, top: ys[i] - r, width: 2 * r, height: 2 * r, borderRadius: "50%", background: "#000" }} />;
      })}
      <div style={{ position: "absolute", left: bracketX, top: ys[0], width: 1, height: last - ys[0], background: "#444" }} />
      <div style={{ position: "absolute", left: bracketX, top: last, width: 3, height: 1, background: "#444" }} />
      {labels.map((l: string, i: number) => (
        <React.Fragment key={"l" + i}>
          <div style={{ position: "absolute", left: bracketX, top: ys[i], width: 3, height: 1, background: "#444" }} />
          <Txt x={labelX} y={ys[i] + 0.5} size={8}>{l}</Txt>
        </React.Fragment>
      ))}
    </>
  );
}

function ColorLegend({ titleX, titleY, barX, barY, barW, barH, lo, hi, ticks, labels, labelX }: any) {
  return (
    <>
      <Txt x={titleX} y={titleY} size={8.5}>pvalue</Txt>
      <div style={{ position: "absolute", left: barX, top: barY, width: barW, height: barH, background: gradientCss }} />
      {ticks.map((v: number, i: number) => {
        const y = barY + ((v - lo) / (hi - lo)) * barH;
        return (
          <React.Fragment key={"c" + i}>
            <div style={{ position: "absolute", left: barX + barW, top: y - 0.5, width: 3, height: 1, background: "#333" }} />
            <Txt x={labelX} y={y} size={8}>{labels[i]}</Txt>
          </React.Fragment>
        );
      })}
    </>
  );
}

export default function App() {
  return (
    <div style={{ position: "absolute", left: 0, top: 0, width: 787, height: 973, overflow: "hidden", background: "#fff" }}>
      {/* panel frames */}
      <div style={{ position: "absolute", left: 1, top: 3, width: 301, height: 372, border: "1px solid #8c8c8c" }} />
      <div style={{ position: "absolute", left: 4, top: 392, width: 279, height: 373, border: "1px solid #8c8c8c" }} />

      {/* panel letters */}
      <Txt x={4} y={16.5} size={13}>A</Txt>
      <Txt x={6} y={406.5} size={13}>B</Txt>
      <Txt x={338} y={7} size={13}>C</Txt>
      <Txt x={328} y={347} size={13}>D</Txt>
      <Txt x={317} y={657} size={13}>E</Txt>

      {/* ---- A ---- */}
      <ChartCanvas left={40} top={13} width={227} height={17} make={() => histConfig(riskHistA, false, 48)} />
      <ChartCanvas left={267} top={30} width={16} height={160} make={() => histConfig(stromalHist, true, 50)} />
      <ChartCanvas left={0} top={28} width={272} height={187} make={() => scatterConfig({
        points: stromalPoints, fitX: stromalFitX, fitY: stromalFitY, bandUp: stromalBandUpper, bandLo: stromalBandLower,
        xMin: -2.542, xMax: 0.38, yMin: -2465, yMax: 1990, xTicks: stromalXTicks, yTicks: stromalYTicks,
        yFmt: (v: any) => Number(v).toLocaleString("en-US"), yTitle: "Stromal Score",
        yAxisW: 40, xAxisH: 25, padTop: 2, padRight: 5, yTitlePad: 1, xTitlePad: 1.5,
      })} />
      <Txt x={43} y={40} size={9}>-: p=4.8e-10 r=0.29</Txt>
      <ChartCanvas left={20} top={218} width={125} height={155} make={() => boxConfig({
        min: stromalMin, q1: stromalQ1, med: stromalMedian, q3: stromalQ3, max: stromalMax,
        xMin: 0.3, xMax: 2.733, yMin: -3000, yMax: 3000, yTicks: stromalBoxTicks, yFmt: (v: any) => String(v),
        yTitle: "Stromal Score", yAxisW: 45, xAxisH: 43, padTop: 6.3, padRight: 7, yTitlePad: 5,
        boxW: 20, capW: 10, bracketY: 2580, bracketEnd: 2300, stars: "*",
      })} />

      {/* ---- B ---- */}
      <ChartCanvas left={32} top={397} width={234} height={15} make={() => histConfig(riskHistB, false, 45)} />
      <ChartCanvas left={266} top={412} width={16} height={162} make={() => histConfig(cafHist, true, 50)} />
      <ChartCanvas left={0} top={410} width={270} height={192} make={() => scatterConfig({
        points: cafPoints, fitX: cafFitX, fitY: cafFitY, bandUp: cafBandUpper, bandLo: cafBandLower,
        xMin: -2.644, xMax: 0.341, yMin: -0.403, yMax: 0.438, xTicks: cafXTicks, yTicks: cafYTicks,
        yFmt: (v: any) => Number(v).toFixed(1), yTitle: "CAF Score",
        yAxisW: 32.3, xAxisH: 28, padTop: 1.7, padRight: 4.3, yTitlePad: 6, xTitlePad: 4.5,
      })} />
      <Txt x={35} y={420} size={9}>-: p=6.3e-19 r=0.35</Txt>
      <div style={{ position: "absolute", left: 268, top: 596.5, width: 7, height: 1.5, background: "#bbb" }} />
      <ChartCanvas left={5} top={620} width={142} height={155} make={() => boxConfig({
        min: cafMin, q1: cafQ1, med: cafMedian, q3: cafQ3, max: cafMax,
        xMin: 0.319, xMax: 2.662, yMin: -0.4, yMax: 0.6, yTicks: cafBoxTicks, yFmt: (v: any) => Number(v).toFixed(1),
        yTitle: "CAF score", yAxisW: 49, xAxisH: 38.3, padTop: 6.7, padRight: 7, yTitlePad: 9,
        boxW: 24, capW: 12.5, bracketY: 0.5, bracketEnd: 0.45, stars: "****",
      })} />

      {/* ---- C ---- */}
      <ChartCanvas left={310} top={15} width={418} height={335} make={() => lollipopConfig({
        genes: genesC, values: corrC, pvals: pvalC, pLo: 0.0001, pHi: 0.0004, radius: radiusCD,
        xMin: 0, xMax: 0.388, yMin: -1, yMax: 30, xTicks: xTicksC,
        yAxisW: 58.3, xAxisH: 20, padTop: 6.7, padRight: 3.7,
        yTitle: "ECM and Collagen Signatures", yTitleSize: 8.5, yTitleBold: false, yTitlePad: 5.5,
      })} />
      <SizeLegend titleX={731.7} titleY={26.7} dotX={735.7} dotY0={35.7} step={16.2} values={sizeLegendC} labels={sizeLabelsC} labelX={753} bracketX={748.3} radius={radiusCD} />
      <ColorLegend titleX={731.7} titleY={140} barX={731.7} barY={148.3} barW={15.6} barH={81.7} lo={0.0001} hi={0.0004} ticks={pTicksC} labels={pLabelsC} labelX={753} />

      {/* ---- D ---- */}
      <ChartCanvas left={310} top={345} width={428} height={315} make={() => lollipopConfig({
        genes: genesD, values: corrD, pvals: pvalD, pLo: 0.0001, pHi: 0.0005, radius: radiusCD,
        xMin: 0, xMax: 0.3965, yMin: -0.94, yMax: 29.95, xTicks: xTicksD,
        yAxisW: 58.3, xAxisH: 27.3, padTop: 5.7, padRight: 3.7,
        yTitle: "Matrisome Signatures", yTitleSize: 8.5, yTitleBold: false, yTitlePad: 5.5,
        xTitle: "Correlation coefficient(r)", xTitlePad: 3.5,
      })} />
      <SizeLegend titleX={741.7} titleY={355} dotX={745} dotY0={363.3} step={14.88} values={sizeLegendD} labels={sizeLabelsD} labelX={761.7} bracketX={758.3} radius={radiusCD} />
      <ColorLegend titleX={741.7} titleY={459.3} barX={741.7} barY={466.7} barW={13.3} barH={75} lo={0.0001} hi={0.0005} ticks={pTicksD} labels={pLabelsD} labelX={760} />

      {/* ---- E ---- */}
      <ChartCanvas left={300} top={668} width={428} height={305} make={() => lollipopConfig({
        genes: genesE, values: corrE, pvals: pvalE, pLo: 0.0005, pHi: 0.037, radius: radiusE,
        xMin: -0.371, xMax: 0.394, yMin: -1.05, yMax: 20.97, xTicks: xTicksE,
        yAxisW: 67.3, xAxisH: 25.7, padTop: 7, padRight: 3.7,
        yTitle: "Carcinoma Associated Fbroblast (CAF) Up Signatures", yTitleSize: 8.8, yTitleBold: true, yTitlePad: 15,
        xTitle: "Correlation coefficient(r)", xTitlePad: 0.8, zeroLine: true,
      })} />
      <SizeLegend titleX={730.7} titleY={681.7} dotX={734.3} dotY0={690} step={17.45} values={sizeLegendE} labels={sizeLabelsE} labelX={751.7} bracketX={746.7} radius={radiusE} />
      <ColorLegend titleX={730.7} titleY={804} barX={730.7} barY={811.7} barW={12.6} barH={87} lo={0.0005} hi={0.037} ticks={pTicksE} labels={pLabelsE} labelX={751.7} />
    </div>
  );
}
